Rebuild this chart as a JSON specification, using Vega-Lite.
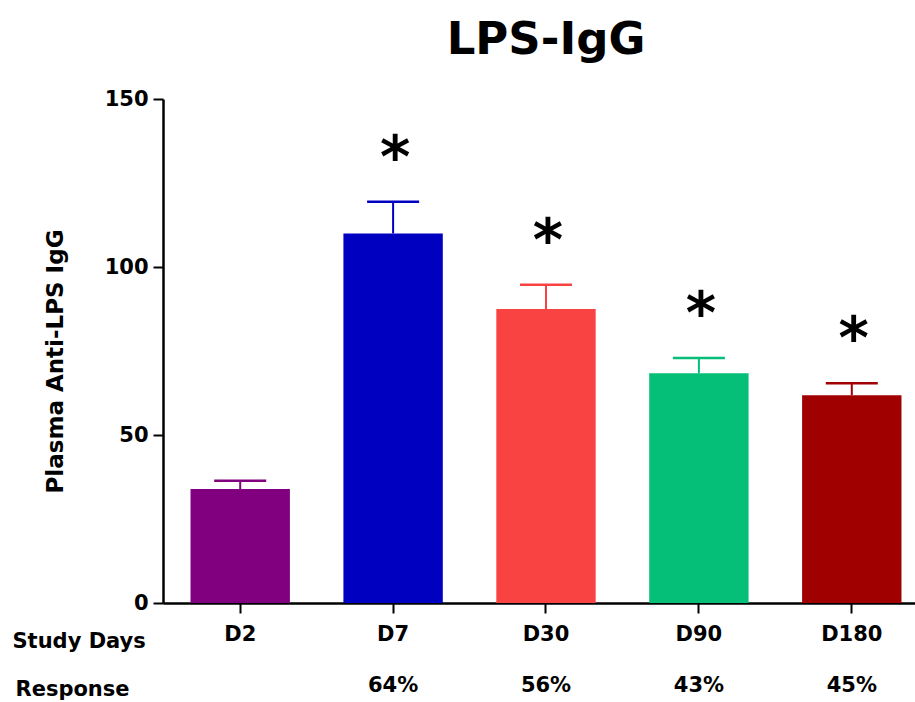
{
  "$schema": "https://vega.github.io/schema/vega-lite/v6.json",
  "width": 766,
  "height": 504,
  "autosize": {"type": "none"},
  "padding": {"left": 163, "top": 99, "right": 0, "bottom": 99},
  "background": "white",
  "title": {"text": "LPS-IgG", "font": "DejaVu Sans", "fontSize": 45, "fontWeight": "bold", "color": "black", "anchor": "middle", "frame": "group", "baseline": "alphabetic", "offset": -11},
  "config": {"view": {"stroke": null},
    "axisY": {"title": "Plasma Anti-LPS IgG", "titleFont": "DejaVu Sans", "titleFontSize": 23, "titleFontWeight": "bold", "titleColor": "black",
      "titleAngle": -90, "titleX": -101, "titleY": 262, "titleBaseline": "alphabetic", "titleAlign": "center",
      "labelFont": "DejaVu Sans", "labelFontSize": 21, "labelFontWeight": "bold", "labelColor": "black", "labelPadding": 5,
      "tickSize": 10, "tickWidth": 2, "tickColor": "black", "domainColor": "black", "domainWidth": 2.5, "grid": false}
  },
  "data": {"values": [
    {"day": "D2", "mean": 33.9, "upper": 36.4, "sig": "", "resp": " "},
    {"day": "D7", "mean": 110.0, "upper": 119.4, "sig": "*", "resp": "64%"},
    {"day": "D30", "mean": 87.5, "upper": 94.7, "sig": "*", "resp": "56%"},
    {"day": "D90", "mean": 68.4, "upper": 72.9, "sig": "*", "resp": "43%"},
    {"day": "D180", "mean": 61.8, "upper": 65.4, "sig": "*", "resp": "45%"}
  ]},
  "resolve": {"scale": {"x": "independent"}, "axis": {"x": "independent"}},
  "layer": [
    {
      "mark": {"type": "bar"},
      "encoding": {
        "x": {"field": "day", "type": "nominal", "sort": null,
          "scale": {"type": "band", "paddingInner": 0.35, "paddingOuter": 0.18},
          "axis": {"title": "Study Days", "titleFont": "DejaVu Sans", "titleFontSize": 21, "titleFontWeight": "bold", "titleColor": "black",
            "titleAnchor": "start", "titleAlign": "left", "titleX": -151, "titleY": 44, "titleBaseline": "alphabetic", "titleAngle": 0,
            "labelFont": "DejaVu Sans", "labelFontSize": 21, "labelFontWeight": "bold", "labelColor": "black", "labelAngle": 0,
            "labelBaseline": "alphabetic", "labelPadding": 27, "tickSize": 10, "tickWidth": 2, "tickColor": "black",
            "domainColor": "black", "domainWidth": 2.5, "grid": false}},
        "y": {"field": "mean", "type": "quantitative", "scale": {"domain": [0, 150], "nice": false}, "title": "Plasma Anti-LPS IgG", "axis": {"values": [0, 50, 100, 150]}},
        "color": {"field": "day", "type": "nominal", "sort": null,
          "scale": {"domain": ["D2", "D7", "D30", "D90", "D180"], "range": ["#800080", "#0000C0", "#F94343", "#05BF78", "#A00000"]},
          "legend": null}
      }
    },
    {
      "mark": {"type": "rule", "strokeWidth": 2},
      "encoding": {
        "x": {"field": "day", "type": "nominal", "sort": null, "scale": {"type": "band", "paddingInner": 0.35, "paddingOuter": 0.18}, "axis": null},
        "y": {"field": "mean", "type": "quantitative", "scale": {"domain": [0, 150], "nice": false}, "title": "Plasma Anti-LPS IgG", "axis": {"values": [0, 50, 100, 150]}},
        "y2": {"field": "upper"},
        "color": {"field": "day", "type": "nominal", "sort": null, "legend": null}
      }
    },
    {
      "mark": {"type": "tick", "orient": "horizontal", "size": 52, "thickness": 2.5, "opacity": 1},
      "encoding": {
        "x": {"field": "day", "type": "nominal", "sort": null, "scale": {"type": "band", "paddingInner": 0.35, "paddingOuter": 0.18}, "axis": null},
        "y": {"field": "upper", "type": "quantitative", "scale": {"domain": [0, 150], "nice": false}, "title": "Plasma Anti-LPS IgG", "axis": {"values": [0, 50, 100, 150]}},
        "color": {"field": "day", "type": "nominal", "sort": null, "legend": null}
      }
    },
    {
      "mark": {"type": "text", "font": "DejaVu Sans", "fontSize": 58, "fontWeight": "bold", "color": "black", "baseline": "alphabetic", "dy": -25, "dx": 2},
      "encoding": {
        "x": {"field": "resp", "type": "nominal", "sort": null,
          "scale": {"type": "band", "paddingInner": 0.35, "paddingOuter": 0.18},
          "axis": {"orient": "bottom", "title": "Response", "titleFont": "DejaVu Sans", "titleFontSize": 21, "titleFontWeight": "bold", "titleColor": "black",
            "titleAnchor": "start", "titleAlign": "left", "titleX": -148, "titleY": 92, "titleBaseline": "alphabetic", "titleAngle": 0,
            "labelFont": "DejaVu Sans", "labelFontSize": 21, "labelFontWeight": "bold", "labelColor": "black", "labelAngle": 0,
            "labelBaseline": "alphabetic", "labelPadding": 88, "labelDx": 12, "ticks": false, "tickSize": 0, "domain": false, "grid": false}},
        "y": {"field": "upper", "type": "quantitative", "scale": {"domain": [0, 150], "nice": false}, "title": "Plasma Anti-LPS IgG", "axis": {"values": [0, 50, 100, 150]}},
        "text": {"field": "sig"}
      }
    }
  ]
}
